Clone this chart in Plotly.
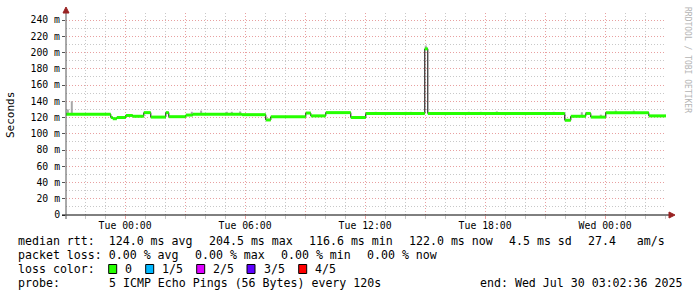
import plotly.graph_objects as go
import pandas as pd
import numpy as np

# ---------------- data ----------------
start_time = "2025-07-28 21:02:36"
end_time = "2025-07-30 03:02:36"

seg_start = [
    "2025-07-28 21:02:36", "2025-07-28 23:17", "2025-07-28 23:23", "2025-07-28 23:35",
    "2025-07-29 00:02", "2025-07-29 00:23", "2025-07-29 00:56", "2025-07-29 01:17",
    "2025-07-29 02:02", "2025-07-29 02:11", "2025-07-29 03:02", "2025-07-29 03:23",
    "2025-07-29 05:50", "2025-07-29 07:02", "2025-07-29 07:17", "2025-07-29 09:02",
    "2025-07-29 09:17", "2025-07-29 10:02", "2025-07-29 11:17", "2025-07-29 12:02",
    "2025-07-29 14:59", "2025-07-29 15:08", "2025-07-29 21:59", "2025-07-29 22:17",
    "2025-07-29 23:02", "2025-07-29 23:17", "2025-07-30 00:02", "2025-07-30 02:11",
]
seg_median = [
    124.0, 120.0, 118.5, 120.0,
    122.5, 121.5, 126.0, 120.5,
    126.0, 121.0, 123.0, 124.0,
    123.5, 117.0, 121.0, 125.5,
    122.0, 126.0, 120.0, 125.0,
    204.5, 125.0, 116.6, 121.5,
    125.0, 120.5, 126.0, 122.0,
]

smoke_time = [
    "2025-07-28 21:08", "2025-07-28 21:20", "2025-07-29 03:20", "2025-07-29 03:48",
    "2025-07-29 05:05", "2025-07-29 05:20", "2025-07-29 05:45", "2025-07-29 12:32",
    "2025-07-29 14:02", "2025-07-29 14:17", "2025-07-29 15:02", "2025-07-29 17:11",
    "2025-07-29 17:47", "2025-07-29 18:35", "2025-07-29 21:26", "2025-07-29 22:50",
    "2025-07-29 23:47", "2025-07-30 00:32", "2025-07-30 01:26",
]
smoke_top = [
    130.0, 140.0, 127.0, 128.5,
    127.0, 127.0, 127.5, 127.0,
    127.0, 127.0, 208.5, 127.0,
    127.0, 127.5, 127.0, 126.5,
    123.5, 128.5, 128.5,
]

y_tick_vals = list(range(0, 241, 20))
y_tick_text = ["0"] + [f"{v} m" for v in y_tick_vals[1:]]
y_minor_vals = list(range(10, 241, 20))

loss_labels = ["0", "1/5", "2/5", "3/5", "4/5"]
loss_colors = ["#26ff00", "#00b8ff", "#dd00ff", "#5e00ff", "#ff0000"]

line1 = ["median rtt:  124.0 ms avg", "204.5 ms max", "116.6 ms min",
         "122.0 ms now", "4.5 ms sd", "27.4   am/s"]
line2 = ["packet loss: 0.00 % avg", "0.00 % max", "0.00 % min", "0.00 % now"]
probe_text = "5 ICMP Echo Pings (56 Bytes) every 120s"
end_text = "end: Wed Jul 30 03:02:36 2025"

# ---------------- layout helpers ----------------
W, H = 697, 297
L, R, T, B = 66, 666, 13, 215
YMAX = (B - T) / 195 * 240


def px(x):
    return (x - L) / (R - L)


def py(y):
    return (B - y) / (B - T)


MONO = "DejaVu Sans Mono"
CW = 6.955   # char width of legend font
GAP = 16.7   # gap between legend items

ts = pd.to_datetime(seg_start, format="mixed")
te = list(ts[1:]) + [pd.Timestamp(end_time)]

fig = go.Figure()

# smoke
sm_t = pd.to_datetime(smoke_time, format="mixed")
idx = np.searchsorted(ts.values, sm_t.values, side="right") - 1
sx, sy = [], []
for t, top, i in zip(sm_t, smoke_top, idx):
    sx += [t, t, None]
    sy += [seg_median[i], top, None]
fig.add_trace(go.Scatter(x=sx, y=sy, mode="lines",
                         line=dict(color="#a8a8a8", width=2), hoverinfo="skip"))

# black median step line
fig.add_trace(go.Scatter(x=list(ts) + [te[-1]], y=seg_median + [seg_median[-1]],
                         mode="lines", line=dict(color="#000000", width=1, shape="hv"),
                         hoverinfo="skip"))

# green loss-colored band
gx, gy = [], []
for a, b, v in zip(ts, te, seg_median):
    gx += [a, b, None]
    gy += [v, v, None]
fig.add_trace(go.Scatter(x=gx, y=gy, mode="lines",
                         line=dict(color=loss_colors[0], width=3), hoverinfo="skip"))

major_x = pd.date_range("2025-07-29 00:00", "2025-07-30 03:00", freq="3h")
major_txt = [d.strftime("%a %H:%M") if d.hour % 6 == 0 else "" for d in major_x]
minor_x = pd.date_range("2025-07-28 22:00", "2025-07-30 03:00", freq="1h")

fig.update_xaxes(
    type="date", range=[start_time, end_time],
    tickmode="array", tickvals=list(major_x), ticktext=major_txt,
    showgrid=True, gridcolor="#e8a0a0", griddash="1px,2px", gridwidth=1,
    ticks="outside", ticklen=3, tickcolor="#e8a0a0", ticklabelstandoff=-2,
    tickfont=dict(family=MONO, size=9.8, color="#000"),
    minor=dict(tickmode="array", tickvals=list(minor_x), showgrid=True,
               gridcolor="#c8c8c8", griddash="1px,2px", ticks="outside",
               ticklen=3, tickcolor="#c8c8c8"),
    showline=False, zeroline=False, fixedrange=True,
)
fig.update_yaxes(
    range=[0, YMAX], tickmode="array", tickvals=y_tick_vals, ticktext=y_tick_text,
    showgrid=True, gridcolor="#e8a0a0", griddash="1px,2px", gridwidth=1,
    ticks="outside", ticklen=3, tickcolor="#555",
    tickfont=dict(family=MONO, size=9.8, color="#000"),
    minor=dict(tickmode="array", tickvals=y_minor_vals, showgrid=True,
               gridcolor="#c8c8c8", griddash="1px,2px"),
    showline=False, zeroline=False, fixedrange=True,
)

shapes = [
    # axes
    dict(type="line", xref="paper", yref="paper", x0=px(62), x1=px(670), y0=py(215), y1=py(215),
         line=dict(color="#000", width=1)),
    dict(type="line", xref="paper", yref="paper", x0=px(66), x1=px(66), y0=py(219), y1=py(12),
         line=dict(color="#555", width=1)),
    # arrows
    dict(type="path", xref="paper", yref="paper",
         path=f"M {px(669)} {py(212)} L {px(675)} {py(215)} L {px(669)} {py(218)} Z",
         fillcolor="#992222", line=dict(color="#992222", width=1)),
    dict(type="path", xref="paper", yref="paper",
         path=f"M {px(63)} {py(13)} L {px(66)} {py(7)} L {px(69)} {py(13)} Z",
         fillcolor="#992222", line=dict(color="#992222", width=1)),
]

annotations = [
    dict(text="Seconds", xref="paper", yref="paper", x=px(10), y=py(115), textangle=-90,
         showarrow=False, font=dict(family=MONO, size=11, color="#000"),
         xanchor="center", yanchor="middle"),
    dict(text="RRDTOOL / TOBI OETIKER", xref="paper", yref="paper", x=px(688), y=py(60),
         textangle=90, showarrow=False, font=dict(family=MONO, size=8, color="#b4b4b4"),
         xanchor="center", yanchor="middle"),
]


def legend_text(txt, x, yc):
    annotations.append(dict(text=txt.replace(" ", "&nbsp;"), xref="paper", yref="paper",
                            x=px(x), y=py(yc), showarrow=False, xanchor="left",
                            yanchor="middle",
                            font=dict(family=MONO, size=11.6, color="#000")))


for row, yc in ((line1, 241.5), (line2, 255.0)):
    x = 16
    for item in row:
        legend_text(item, x, yc)
        x += len(item) * CW + GAP

legend_text("loss color:", 16, 269.0)
box_x = [108.7, 145.7, 196.7, 247.0, 298.7]
for bx, lab, col in zip(box_x, loss_labels, loss_colors):
    shapes.append(dict(type="rect", xref="paper", yref="paper",
                       x0=px(bx), x1=px(bx + 8), y0=py(273.5), y1=py(264.5),
                       fillcolor=col, line=dict(color="#000", width=1)))
    legend_text(lab, bx + 14.5, 269.0)

legend_text("probe:", 16, 282.7)
legend_text(probe_text, 107.3, 282.7)
legend_text(end_text, 478.3, 282.7)

fig.update_layout(
    width=W, height=H, margin=dict(l=L, r=W - R, t=T, b=H - B),
    paper_bgcolor="white", plot_bgcolor="white", showlegend=False,
    shapes=shapes, annotations=annotations,
)

fig.write_html("out.html")
